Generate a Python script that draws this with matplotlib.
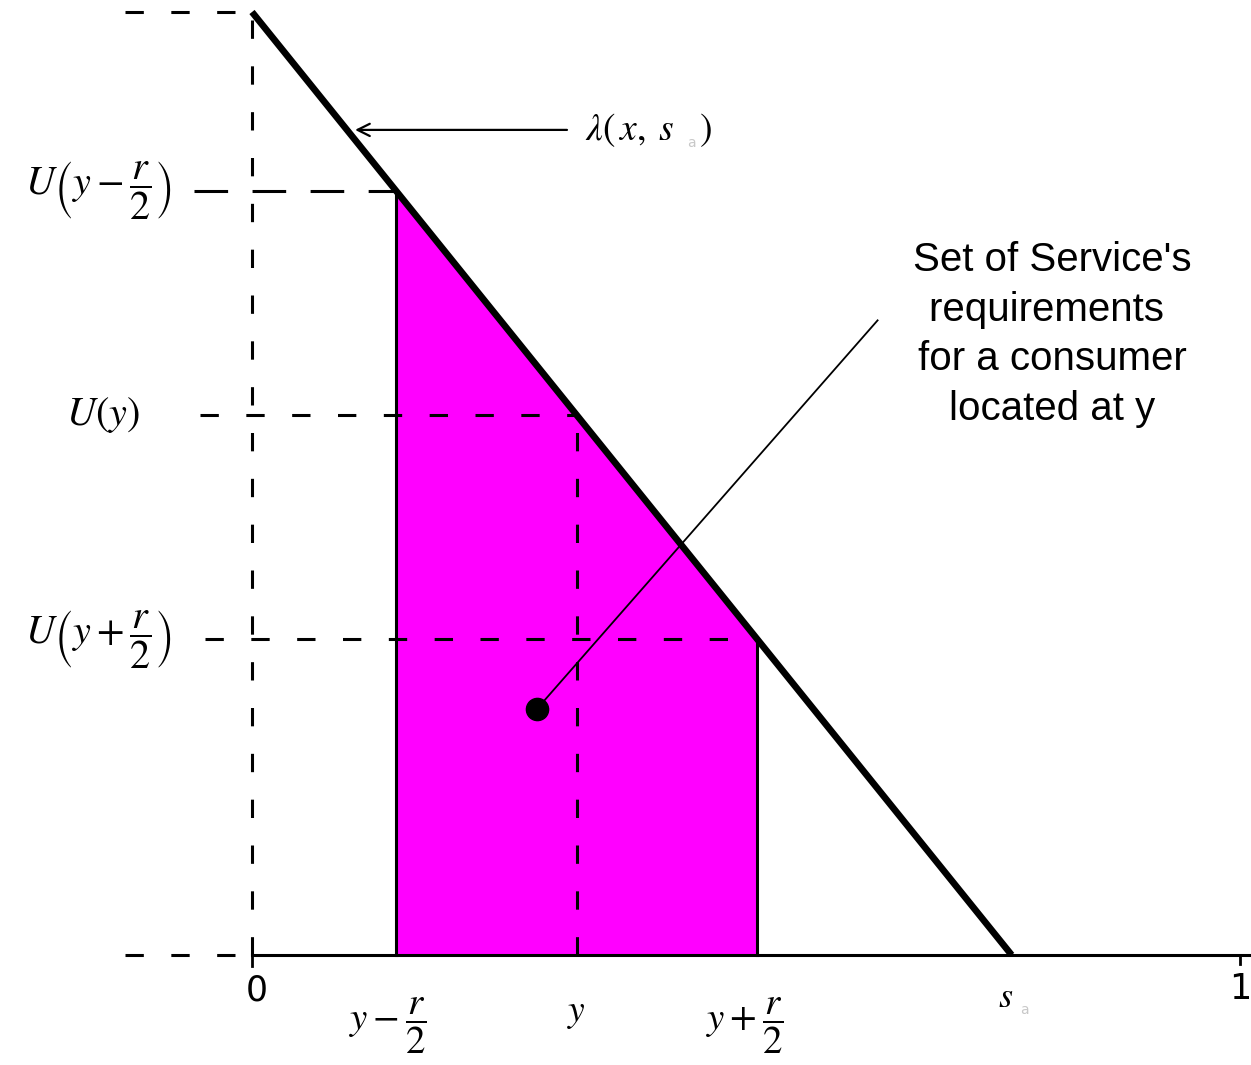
import matplotlib
matplotlib.use("Agg")
import matplotlib.pyplot as plt
import numpy as np

plt.rcParams["mathtext.fontset"] = "stix"

# model values (unit interval market)
s_a = 0.765          # where lambda(x, s_a) hits zero
y_pos = 0.327        # consumer location
half_r = 0.182       # r / 2
dot_xy = (0.287, 0.261)
leader_end = (0.630, 0.673)
arrow_x = (0.320, 0.101)


def lam(x):
    return 1.0 - np.asarray(x) / s_a


x_lo = y_pos - half_r
x_hi = y_pos + half_r

HALF = r"\dfrac{r}{2}"

fig = plt.figure(figsize=(12.51, 10.65), dpi=100)
ax = fig.add_axes([0, 0, 1, 1])
ax.set_xlim(-252 / 993, 999 / 993)
ax.set_ylim(-110 / 943, 955 / 943)
ax.axis("off")

dash = dict(color="black", lw=2.2, linestyle=(0, (6, 9)))

# shaded requirement set under the line
xs = np.array([x_lo, x_lo, x_hi, x_hi])
ys = np.array([0, lam(x_lo), lam(x_hi), 0])
ax.fill(xs, ys, color="#ff00ff", lw=0, zorder=1)
ax.plot([x_lo, x_lo], [0, lam(x_lo)], color="black", lw=2.2, zorder=3)
ax.plot([x_hi, x_hi], [0, lam(x_hi)], color="black", lw=2.2, zorder=3)

# axes
ax.plot([0, 1.01], [0, 0], color="black", lw=2.2, zorder=3)
ax.plot([0, 0], [0, 1], **dash, zorder=2)
ax.plot([-0.128, 0], [1, 1], **dash)
ax.plot([-0.128, 0], [0, 0], **dash)
ax.plot([0, 0], [0, -0.012], color="black", lw=2)
ax.plot([0.995, 0.995], [0, -0.01], color="black", lw=2)

# guide lines to the curve
ax.plot([-0.058, x_lo], [lam(x_lo)] * 2, color="black", lw=2.2,
        linestyle=(0, (11, 8)), zorder=2)
ax.plot([-0.052, y_pos], [lam(y_pos)] * 2, **dash, zorder=2)
ax.plot([y_pos, y_pos], [0, lam(y_pos)], **dash, zorder=2)
ax.plot([-0.047, x_hi], [lam(x_hi)] * 2, **dash, zorder=2)

# lambda(x, s_a)
xl = np.array([0, s_a])
ax.plot(xl, lam(xl), color="black", lw=4.8, solid_capstyle="butt", zorder=4)

ax.annotate("", xy=(arrow_x[1], lam(arrow_x[1]) + 0.007),
            xytext=(arrow_x[0], lam(arrow_x[1]) + 0.007),
            arrowprops=dict(arrowstyle="->", color="black", lw=1.6,
                            mutation_scale=22))
ax.text(0.335, 0.875, r"$\lambda(\,x,\;s$", fontsize=27, va="center", ha="left")
ax.text(0.438, 0.861, "a", fontsize=10, color="#c8c8c8", va="center")
ax.text(0.450, 0.875, r"$)$", fontsize=27, va="center", ha="left")

# consumer's set marker
ax.plot([dot_xy[0], leader_end[0]], [dot_xy[1], leader_end[1]],
        color="black", lw=1.3, zorder=5)
ax.plot(*dot_xy, "o", color="black", ms=16, zorder=6)
ax.text(0.806, 0.658,
        "Set of Service's\nrequirements \nfor a consumer\nlocated at y",
        fontsize=29, ha="center", va="center", linespacing=1.38,
        family="Liberation Sans")

# y-axis labels
ax.text(-0.155, lam(x_lo), r"$U\left(y-" + HALF + r"\right)$", fontsize=29,
        ha="center", va="center")
ax.text(-0.150, lam(y_pos), r"$U\left(y\right)$", fontsize=29,
        ha="center", va="center")
ax.text(-0.155, lam(x_hi), r"$U\left(y+" + HALF + r"\right)$", fontsize=29,
        ha="center", va="center")

# x-axis labels
ax.text(0.005, -0.038, "0", fontsize=25, ha="center", va="center",
        family="DejaVu Sans")
ax.text(1.006, -0.036, "1", fontsize=25, ha="right", va="center",
        family="DejaVu Sans")
ax.text(x_lo - 0.008, -0.075, r"$y-" + HALF + "$", fontsize=28,
        ha="center", va="center")
ax.text(y_pos, -0.062, r"$y$", fontsize=27, ha="center", va="center")
ax.text(x_hi - 0.013, -0.075, r"$y+" + HALF + "$", fontsize=28,
        ha="center", va="center")
ax.text(s_a - 0.006, -0.045, r"$s$", fontsize=26, ha="center", va="center")
ax.text(s_a + 0.013, -0.058, "a", fontsize=10, color="#c8c8c8",
        ha="center", va="center")

fig.savefig("out.png", dpi=100)
